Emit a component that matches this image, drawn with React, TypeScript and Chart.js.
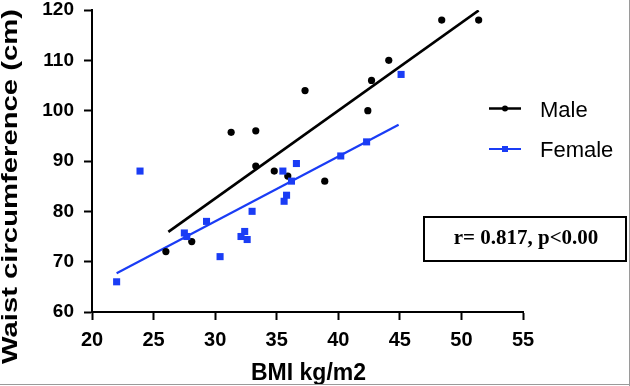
import React, { useEffect, useRef } from "react";
import { Chart, registerables } from "chart.js";

Chart.register(...registerables);

// ---- data ----
const xTickValues = [20, 25, 30, 35, 40, 45, 50, 55];
const yTickValues = [60, 70, 80, 90, 100, 110, 120];

const maleBMI = [26.0, 28.1, 31.3, 33.3, 37.3, 33.3, 34.8, 35.9, 38.9, 42.4, 42.7, 44.1, 48.4, 51.4];
const maleWaist = [72, 74, 95.7, 96, 104, 89, 88, 87, 86, 100, 106, 110, 118, 118];

const femaleBMI = [22.0, 23.9, 27.5, 27.7, 29.3, 30.4, 32.1, 32.4, 32.6, 33.0, 35.6, 35.8, 35.5, 36.2, 36.6, 40.2, 42.3, 45.1];
const femaleWaist = [66, 88, 75.7, 75, 78, 71, 75, 76, 74.4, 80, 82, 83.2, 88, 86, 89.5, 91, 93.8, 107.2];

const maleFitBMI = [26.2, 51.4];
const maleFitWaist = [75.9, 119.9];
const femaleFitBMI = [22.0, 44.9];
const femaleFitWaist = [67.7, 97.2];

const seriesNames = ["Male", "Female"];
const xTitle = "BMI kg/m2";
const yTitle = "Waist circumference (cm)";
const statText = "r= 0.817, p<0.00";

const BLACK = "#000000";
const BLUE = "#1a3cf5";
const SANS = "'Liberation Sans', Arial, sans-serif";
const SERIF = "'Liberation Serif', 'Times New Roman', serif";

const toPoints = (xs: number[], ys: number[]) => xs.map((x, i) => ({ x, y: ys[i] }));

export default function App() {
  const ref = useRef<HTMLCanvasElement>(null);

  useEffect(() => {
    const canvas = ref.current;
    if (!canvas) return;

    const overlay = {
      id: "overlay",
      afterDraw(chart: any) {
        const ctx: CanvasRenderingContext2D = chart.ctx;
        const area = chart.chartArea;
        ctx.save();

        // Y axis title (stretched along its length like the reference)
        ctx.save();
        ctx.font = `bold 22px ${SANS}`;
        const w = ctx.measureText(yTitle).width;
        const targetLen = 355;
        ctx.translate(16.5, 186.5);
        ctx.rotate(-Math.PI / 2);
        ctx.scale(targetLen / w, 1);
        ctx.fillStyle = BLACK;
        ctx.textAlign = "center";
        ctx.textBaseline = "alphabetic";
        ctx.fillText(yTitle, 0, 0);
        ctx.restore();

        // X axis title
        ctx.font = `bold 23px ${SANS}`;
        ctx.fillStyle = BLACK;
        ctx.textAlign = "center";
        ctx.textBaseline = "alphabetic";
        ctx.fillText(xTitle, (area.left + area.right) / 2 + 1, 380);

        // Legend
        const legendItems = [
          { name: seriesNames[0], color: BLACK, y: 108.5, lw: 2.5, shape: "circle" },
          { name: seriesNames[1], color: BLUE, y: 149, lw: 2, shape: "rect" },
        ];
        for (const it of legendItems) {
          ctx.strokeStyle = it.color;
          ctx.lineWidth = it.lw;
          ctx.beginPath();
          ctx.moveTo(489, it.y);
          ctx.lineTo(521, it.y);
          ctx.stroke();
          ctx.fillStyle = it.color;
          if (it.shape === "circle") {
            ctx.beginPath();
            ctx.arc(505, it.y, 3, 0, Math.PI * 2);
            ctx.fill();
          } else {
            ctx.fillRect(502, it.y - 3, 6, 6);
          }
          ctx.fillStyle = BLACK;
          ctx.font = `22px ${SANS}`;
          ctx.textAlign = "left";
          ctx.textBaseline = "alphabetic";
          ctx.fillText(it.name, 540, it.y + 8);
        }

        // Statistic box
        ctx.strokeStyle = BLACK;
        ctx.lineWidth = 2;
        ctx.strokeRect(424, 217, 202, 44);
        ctx.font = `bold 21px ${SERIF}`;
        ctx.fillStyle = BLACK;
        ctx.textAlign = "center";
        ctx.textBaseline = "alphabetic";
        ctx.fillText(statText, 526, 243.5);

        // faint image borders
        ctx.strokeStyle = "#9a9a9a";
        ctx.lineWidth = 1;
        ctx.beginPath();
        ctx.moveTo(629.5, 0);
        ctx.lineTo(629.5, 386);
        ctx.moveTo(0, 384.5);
        ctx.lineTo(630, 384.5);
        ctx.stroke();

        ctx.restore();
      },
    };

    const chart = new Chart(canvas, {
      type: "scatter",
      data: {
        datasets: [
          {
            label: seriesNames[0] + " fit",
            data: toPoints(maleFitBMI, maleFitWaist),
            showLine: true,
            borderColor: BLACK,
            borderWidth: 2.7,
            pointRadius: 0,
            order: 3,
          },
          {
            label: seriesNames[1] + " fit",
            data: toPoints(femaleFitBMI, femaleFitWaist),
            showLine: true,
            borderColor: BLUE,
            borderWidth: 2.2,
            pointRadius: 0,
            order: 4,
          },
          {
            label: seriesNames[0],
            data: toPoints(maleBMI, maleWaist),
            backgroundColor: BLACK,
            borderColor: BLACK,
            borderWidth: 0,
            pointRadius: 3.6,
            pointStyle: "circle",
            order: 2,
          },
          {
            label: seriesNames[1],
            data: toPoints(femaleBMI, femaleWaist),
            backgroundColor: BLUE,
            borderColor: BLUE,
            borderWidth: 0,
            pointRadius: 5,
            pointStyle: "rect",
            order: 1,
          },
        ],
      },
      options: {
        responsive: false,
        animation: false,
        layout: { padding: { top: 10, right: 107, left: 0, bottom: 0 } },
        plugins: {
          legend: { display: false },
          tooltip: { enabled: false },
          title: { display: false },
        },
        scales: {
          x: {
            type: "linear",
            min: 20,
            max: 55,
            afterBuildTicks: (s: any) => {
              s.ticks = xTickValues.map((v) => ({ value: v }));
            },
            afterFit: (s: any) => {
              s.height = 74;
              s.paddingLeft = 0;
              s.paddingRight = 0;
              s.paddingTop = 0;
              s.paddingBottom = 0;
            },
            grid: {
              drawOnChartArea: false,
              drawTicks: true,
              tickLength: 8,
              tickWidth: 2,
              tickColor: BLACK,
            },
            border: { display: true, color: BLACK, width: 2 },
            ticks: {
              color: BLACK,
              padding: 8,
              font: { family: SANS, size: 20, weight: "bold" },
            },
          },
          y: {
            type: "linear",
            min: 60,
            max: 120,
            afterBuildTicks: (s: any) => {
              s.ticks = yTickValues.map((v) => ({ value: v }));
            },
            afterFit: (s: any) => {
              s.width = 92;
              s.paddingLeft = 0;
              s.paddingRight = 0;
              s.paddingTop = 0;
              s.paddingBottom = 0;
            },
            grid: {
              drawOnChartArea: false,
              drawTicks: true,
              tickLength: 8,
              tickWidth: 2,
              tickColor: BLACK,
            },
            border: { display: true, color: BLACK, width: 2 },
            ticks: {
              color: BLACK,
              padding: 10,
              font: { family: SANS, size: 19, weight: "bold" },
            },
          },
        },
      },
      plugins: [overlay],
    } as any);

    return () => chart.destroy();
  }, []);

  return (
    <div style={{ position: "fixed", left: 0, top: 0, width: 630, height: 386, background: "#fff" }}>
      <canvas ref={ref} width={630} height={386} style={{ display: "block" }} />
    </div>
  );
}
